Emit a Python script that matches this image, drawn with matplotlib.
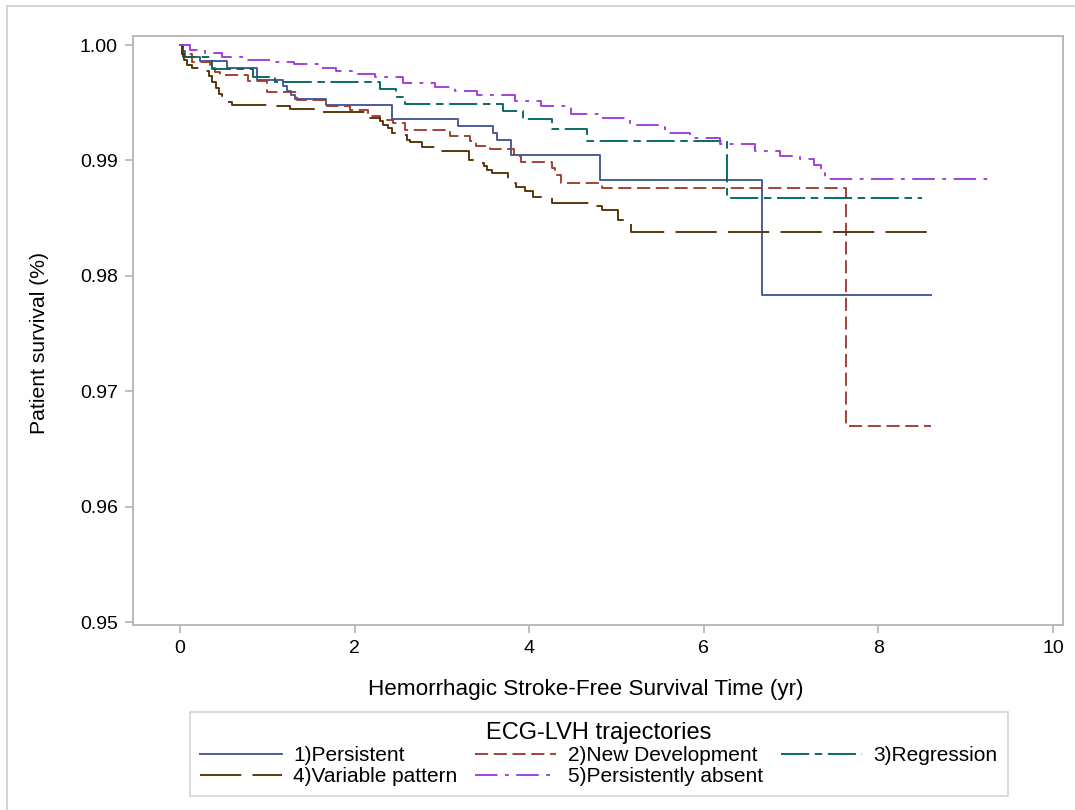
import matplotlib
matplotlib.use("Agg")
import matplotlib.pyplot as plt
from matplotlib.lines import Line2D

plt.rcParams['font.family'] = ['Liberation Sans', 'DejaVu Sans']

# ---------------- data ----------------
persist_t = [0, 0.03, 0.06, 0.23, 0.54, 0.88, 1.18, 1.23, 1.27, 1.32, 1.67, 2.43,
             3.18, 3.59, 3.63, 3.79, 4.81, 6.67, 8.60]
persist_s = [1.0, 0.9995, 0.9990, 0.9986, 0.9980, 0.9970, 0.99645, 0.9960, 0.9957,
             0.99535, 0.99483, 0.99357, 0.99299, 0.99241, 0.99177, 0.99048, 0.98831,
             0.97835, 0.97835]

newdev_t = [0, 0.02, 0.14, 0.34, 0.40, 0.46, 0.78, 1.00, 1.34, 1.68, 1.95, 2.15, 2.29,
            2.44, 2.58, 3.09, 3.32, 3.39, 3.55, 3.83, 3.91, 4.26, 4.30, 4.36, 4.83,
            7.63, 8.60]
newdev_s = [1.0, 0.9992, 0.99853, 0.99801, 0.99766, 0.99738, 0.99686, 0.99593, 0.99526,
            0.99472, 0.99440, 0.99385, 0.99351, 0.99325, 0.99264, 0.99212, 0.99169,
            0.99126, 0.99100, 0.99039, 0.98990, 0.98935, 0.98874, 0.98808, 0.98759,
            0.96701, 0.96701]

regress_t = [0, 0.03, 0.37, 0.84, 1.09, 2.29, 2.47, 2.58, 3.70, 3.93, 4.26, 4.66, 6.27, 8.50]
regress_s = [1.0, 0.99900, 0.99788, 0.99723, 0.99680, 0.99616, 0.99554, 0.99489, 0.99429,
             0.99357, 0.99270, 0.99171, 0.98673, 0.98673]

variable_t = [0, 0.02, 0.05, 0.08, 0.14, 0.29, 0.33, 0.37, 0.41, 0.45, 0.48, 0.52, 0.60,
              1.11, 1.26, 1.60, 2.15, 2.29, 2.33, 2.38, 2.43, 2.54, 2.60, 2.64, 2.77,
              2.94, 3.31, 3.44, 3.48, 3.52, 3.57, 3.76, 3.85, 3.95, 4.04, 4.26, 4.73,
              4.83, 5.02, 5.17, 8.61]
variable_s = [1.0, 0.9992, 0.9987, 0.9983, 0.99801, 0.99775, 0.99730, 0.99680, 0.99630,
              0.99580, 0.99541, 0.99506, 0.99483, 0.99470, 0.99449, 0.99420, 0.99366,
              0.99340, 0.99310, 0.99280, 0.99240, 0.99221, 0.99180, 0.99157, 0.99119,
              0.99085, 0.99000, 0.98980, 0.98950, 0.98920, 0.98889, 0.98805, 0.98770,
              0.98740, 0.98687, 0.98635, 0.98605, 0.98570, 0.98485, 0.98384, 0.98384]

absent_t = [0, 0.11, 0.29, 0.48, 0.77, 1.05, 1.31, 1.63, 1.79, 2.00, 2.23, 2.55, 2.92,
            3.15, 3.40, 3.84, 4.14, 4.48, 4.81, 5.15, 5.56, 5.84, 6.19, 6.59, 6.87,
            7.10, 7.26, 7.34, 7.39, 9.30]
absent_s = [1.0, 0.99957, 0.99931, 0.99896, 0.99870, 0.99853, 0.99835, 0.99805, 0.99775,
            0.99749, 0.99723, 0.99668, 0.99636, 0.99604, 0.99571, 0.99511, 0.99468,
            0.99403, 0.99368, 0.99307, 0.99242, 0.99195, 0.99147, 0.99082, 0.99039,
            0.99010, 0.98961, 0.98892, 0.98840, 0.98840]

series_labels = ["1)Persistent", "2)New Development", "3)Regression",
                 "4)Variable pattern", "5)Persistently absent"]
x_ticks = [0, 2, 4, 6, 8, 10]
y_ticks = [0.95, 0.96, 0.97, 0.98, 0.99, 1.00]
y_tick_labels = ["0.95", "0.96", "0.97", "0.98", "0.99", "1.00"]

# ---------------- figure ----------------
W, H = 1075, 810
fig = plt.figure(figsize=(W / 100, H / 100), dpi=100)
ax_l, ax_r, ax_t, ax_b = 133, 1063, 36, 625
ax = fig.add_axes([ax_l / W, 1 - ax_b / H, (ax_r - ax_l) / W, (ax_b - ax_t) / H])

colors = ['#445694', '#A23A2E', '#01665E', '#543005', '#9D3CDB']
styles = ['-', (0, (7, 3)), (0, (15, 3, 4, 3)), (0, (22, 6)), (0, (12, 4, 2, 4))]
data = [(persist_t, persist_s), (newdev_t, newdev_s), (regress_t, regress_s),
        (variable_t, variable_s), (absent_t, absent_s)]
lw = 1.35
handles = []
for (t, s), c, ls, lab in zip(data, colors, styles, series_labels):
    h, = ax.step(t, s, where='post', color=c, linestyle=ls, linewidth=lw, label=lab)
    handles.append(h)

ax.set_xlim(-0.538, 10.115)
ax.set_ylim(0.94978, 1.00078)
ax.set_xticks(x_ticks)
ax.set_xticklabels([str(v) for v in x_ticks])
ax.set_yticks(y_ticks)
ax.set_yticklabels(y_tick_labels)

spine_c = '#B4B4B4'
for sp in ax.spines.values():
    sp.set_color(spine_c)
    sp.set_linewidth(1.3)
ax.tick_params(axis='both', colors=spine_c, labelcolor='black', labelsize=14,
               length=6, width=1.2, direction='out', pad=5)

ax.set_xlabel("Hemorrhagic Stroke-Free Survival Time (yr)", fontsize=16.2)
ax.set_ylabel("Patient survival (%)", fontsize=15.2)
# label centres measured in the reference (pixels)
ax.xaxis.set_label_coords((586 - ax_l) / (ax_r - ax_l), -(690 - ax_b) / (ax_b - ax_t))
ax.xaxis.label.set_va('center')
ax.yaxis.set_label_coords(-(ax_l - 40) / (ax_r - ax_l), (ax_b - 343) / (ax_b - ax_t))
ax.yaxis.label.set_va('center')

order = [0, 3, 1, 4, 2]
leg = fig.legend([handles[i] for i in order], [series_labels[i] for i in order],
                 ncol=3, loc='upper center',
                 bbox_to_anchor=(599 / W, 1 - 712 / H), bbox_transform=fig.transFigure,
                 title="ECG-LVH trajectories", title_fontsize=17, fontsize=15,
                 frameon=True, fancybox=False, edgecolor='#C8C8C8',
                 handlelength=3.9, handletextpad=0.55, columnspacing=0.85,
                 borderpad=0.48, labelspacing=0.1, borderaxespad=0)
leg.get_frame().set_linewidth(1.2)

# outer light border (left and top)
fig.add_artist(Line2D([7 / W, 7 / W], [0, 1 - 6 / H], transform=fig.transFigure,
                      color='#D4D4D4', linewidth=1.5))
fig.add_artist(Line2D([7 / W, 1], [1 - 6 / H, 1 - 6 / H], transform=fig.transFigure,
                      color='#D4D4D4', linewidth=1.5))

fig.savefig("out.png", dpi=100)
